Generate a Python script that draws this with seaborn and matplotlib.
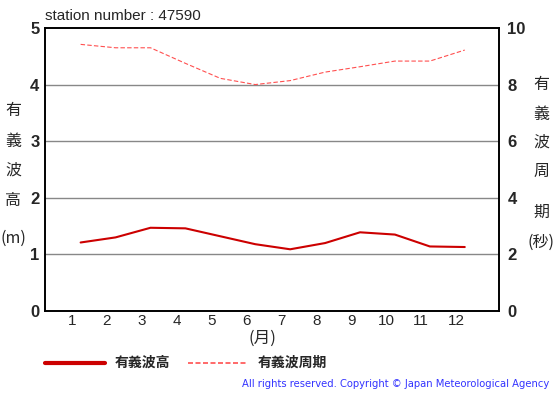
import matplotlib
matplotlib.use('Agg')
import matplotlib.pyplot as plt
import seaborn as sns
import pandas as pd
from matplotlib.lines import Line2D

# monthly normals, station 47590
months = [1, 2, 3, 4, 5, 6, 7, 8, 9, 10, 11, 12]
wave_height = [1.21, 1.30, 1.47, 1.46, 1.32, 1.18, 1.09, 1.20, 1.39, 1.35, 1.14, 1.13]
wave_period = [9.42, 9.30, 9.30, 8.75, 8.22, 8.00, 8.14, 8.44, 8.63, 8.83, 8.83, 9.22]
left_ticks = [0, 1, 2, 3, 4, 5]
right_ticks = [0, 2, 4, 6, 8, 10]

sns.set_theme(style='white')
plt.rcParams['font.family'] = ['Liberation Sans', 'Noto Sans CJK JP', 'DejaVu Sans']
JP = ['Noto Sans CJK JP', 'DejaVu Sans']

df = pd.DataFrame({'month': months, 'height': wave_height, 'period': wave_period})
# JMA draws the points a quarter month right of the tick
df['xpos'] = df['month'] + 0.25

fig = plt.figure(figsize=(5.55, 3.95), dpi=100)
ax = fig.add_axes([0.0811, 0.2127, 0.818, 0.7165])
ax2 = ax.twinx()

sns.lineplot(data=df, x='xpos', y='height', ax=ax, color='#cc0000', linewidth=1.5)
sns.lineplot(data=df, x='xpos', y='period', ax=ax2, color='#ff5050', linewidth=0.8,
             linestyle=(0, (4, 2)))

ax.set_xlim(0.23, 13.23)
ax.set_ylim(0, 5)
ax2.set_ylim(0, 10)
ax.set_xticks(months)
ax.set_xticklabels([str(m) for m in months], fontsize=11)
ax.set_yticks(left_ticks)
ax.set_yticklabels([str(t) for t in left_ticks], fontsize=12, fontweight='bold')
ax2.set_yticks(right_ticks)
ax2.set_yticklabels([str(t) for t in right_ticks], fontsize=12, fontweight='bold')
ax.tick_params(axis='x', length=0, pad=2)
ax.tick_params(axis='y', length=0, pad=4)
ax2.tick_params(axis='y', length=0, pad=6)
ax.set_xlabel('')
ax.set_ylabel('')
ax2.set_ylabel('')

for y in [1, 2, 3, 4]:
    ax.axhline(y, color='#888888', linewidth=1.0, zorder=0)
for a in (ax, ax2):
    for s in a.spines.values():
        s.set_color('black')
        s.set_linewidth(1.2)

fig.text(45 / 555, 1 - 16 / 395, 'station number : 47590', fontsize=11, va='center', ha='left')

# stacked axis titles
for ch, yp in zip(['有', '義', '波', '高', '(m)'], [110, 142, 170, 200, 238]):
    fig.text(13 / 555, 1 - yp / 395, ch, fontsize=11.5, family=JP, ha='center', va='center')
for ch, yp in zip(['有', '義', '波', '周', '期', '(秒)'], [84, 114, 142, 171, 212, 242]):
    fig.text(541 / 555, 1 - yp / 395, ch, fontsize=11.5, family=JP, ha='center', va='center')
fig.text(262 / 555, 1 - 338 / 395, '(月)', fontsize=12, family=JP, ha='center', va='center')

# legend drawn by hand below the plot
fig.add_artist(Line2D([45 / 555, 105 / 555], [1 - 363 / 395] * 2, color='#cc0000', linewidth=3))
fig.text(115 / 555, 1 - 363 / 395, '有義波高', fontsize=10, fontweight='bold', family=JP, va='center')
fig.add_artist(Line2D([188 / 555, 246 / 555], [1 - 363 / 395] * 2, color='#ff5050',
                      linewidth=1.2, linestyle=(0, (3, 1.5))))
fig.text(258 / 555, 1 - 363 / 395, '有義波周期', fontsize=10, fontweight='bold', family=JP, va='center')

fig.text(549 / 555, 1 - 384 / 395, 'All rights reserved. Copyright © Japan Meteorological Agency',
         fontsize=7.2, color='#3333ff', ha='right', va='center', family='DejaVu Sans')

fig.savefig('out.png', dpi=100)
